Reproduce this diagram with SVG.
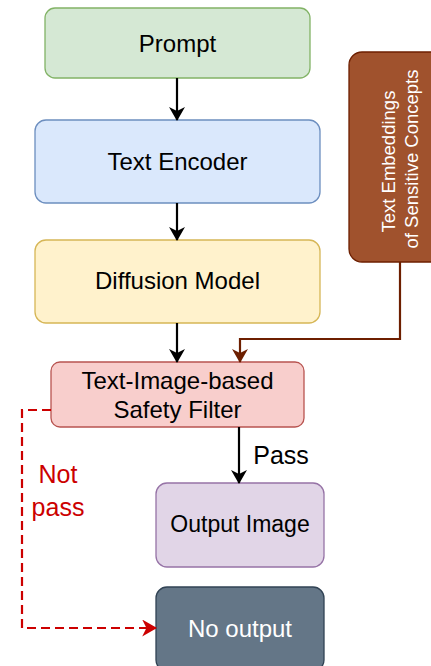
<svg xmlns="http://www.w3.org/2000/svg" width="431" height="666" viewBox="0 0 431 666">
  <defs>
    <style>
      .lbl { font-family: "Liberation Sans", Arial, sans-serif; font-size: 24px; text-anchor: middle; fill: #000; }
      .box { stroke-width: 1.3; }
      .edge { fill: none; stroke-width: 2.2; }
    </style>
    <marker id="arrowBlack" viewBox="0 0 14 16" refX="13" refY="8" markerWidth="14" markerHeight="16" markerUnits="userSpaceOnUse" orient="auto">
      <path d="M0,0 L14,8 L0,16 L4,8 Z" fill="#000"/>
    </marker>
    <marker id="arrowBrown" viewBox="0 0 14 16" refX="13" refY="8" markerWidth="14" markerHeight="16" markerUnits="userSpaceOnUse" orient="auto">
      <path d="M0,0 L14,8 L0,16 L4,8 Z" fill="#6D1F00"/>
    </marker>
    <marker id="arrowRed" viewBox="0 0 14 16" refX="13" refY="8" markerWidth="15" markerHeight="17" markerUnits="userSpaceOnUse" orient="auto">
      <path d="M0,0 L14,8 L0,16 L4,8 Z" fill="#CC0000"/>
    </marker>
  </defs>
  <rect width="431" height="666" fill="#fff"/>

  <g id="prompt">
    <rect class="box" x="45" y="8" width="265" height="70" rx="10" fill="#d5e8d4" stroke="#82b366"/>
    <text class="lbl" x="177.5" y="52">Prompt</text>
  </g>

  <g id="text-encoder">
    <rect class="box" x="35" y="120" width="285" height="83" rx="11" fill="#dae8fc" stroke="#6c8ebf"/>
    <text class="lbl" x="177.5" y="170">Text Encoder</text>
  </g>

  <g id="diffusion-model">
    <rect class="box" x="35" y="240" width="285" height="83" rx="11" fill="#fff2cc" stroke="#d6b656"/>
    <text class="lbl" x="177.5" y="289">Diffusion Model</text>
  </g>

  <g id="sensitive-concepts">
    <rect class="box" x="349" y="52" width="100" height="210" rx="13" fill="#a0522d" stroke="#6D1F00"/>
    <text class="lbl" transform="translate(395,159) rotate(-90)" style="font-size:18.5px;fill:#fff">
      <tspan x="0" dy="0">Text Embeddings</tspan>
      <tspan x="0" dy="23">of Sensitive Concepts</tspan>
    </text>
  </g>

  <g id="safety-filter">
    <rect class="box" x="51" y="362" width="253" height="65" rx="9" fill="#f8cecc" stroke="#b85450"/>
    <text class="lbl" x="177.5" y="389">Text-Image-based</text>
    <text class="lbl" x="177.5" y="418">Safety Filter</text>
  </g>

  <g id="output-image">
    <rect class="box" x="156" y="483" width="168" height="84" rx="11" fill="#e1d5e7" stroke="#9673a6"/>
    <text class="lbl" x="240" y="532" style="font-size:23px">Output Image</text>
  </g>

  <g id="no-output">
    <rect class="box" x="156" y="587" width="168" height="84" rx="11" fill="#647687" stroke="#314354"/>
    <text class="lbl" x="240" y="637" style="fill:#fff">No output</text>
  </g>

  <g id="connectors">
    <line class="edge" x1="177" y1="78" x2="177" y2="120" stroke="#000" marker-end="url(#arrowBlack)"/>
    <line class="edge" x1="177" y1="203" x2="177" y2="240" stroke="#000" marker-end="url(#arrowBlack)"/>
    <line class="edge" x1="177" y1="323" x2="177" y2="362" stroke="#000" marker-end="url(#arrowBlack)"/>
    <path class="edge" d="M400,262 V339 H240 V362" stroke="#6D1F00" marker-end="url(#arrowBrown)"/>
    <line class="edge" x1="239" y1="427" x2="239" y2="483" stroke="#000" marker-end="url(#arrowBlack)"/>
    <text class="lbl" x="281" y="464" style="font-size:25px">Pass</text>
    <path class="edge" d="M51,410 H22 V628 H156" stroke="#CC0000" stroke-width="2.5" stroke-dasharray="9 5" marker-end="url(#arrowRed)"/>
    <text class="lbl" x="58" y="483" style="font-size:25px;fill:#CC0000">Not</text>
    <text class="lbl" x="58" y="516" style="font-size:25px;fill:#CC0000">pass</text>
  </g>
</svg>
